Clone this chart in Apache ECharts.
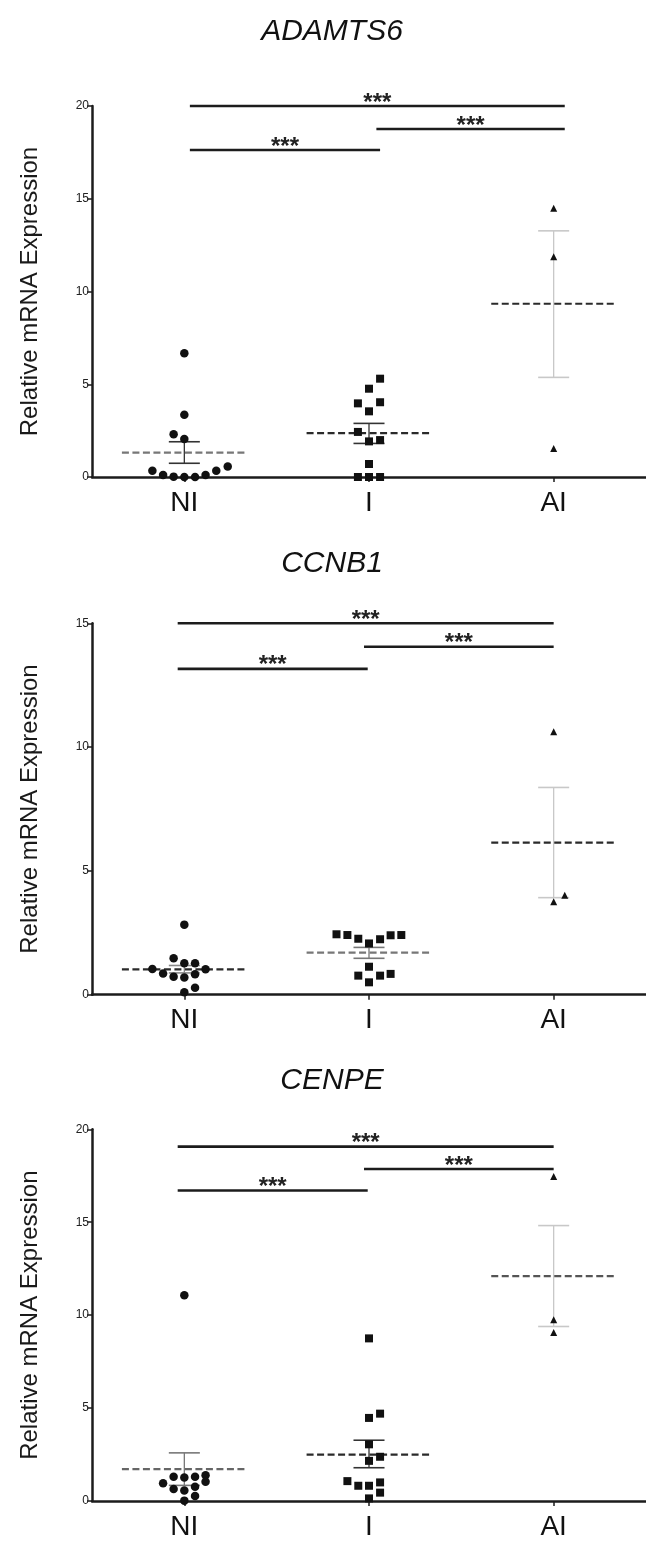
<!DOCTYPE html>
<html>
<head>
<meta charset="utf-8">
<script src="https://cdn.jsdelivr.net/npm/echarts@6/dist/echarts.min.js"></script>
<style>
html, body { margin: 0; padding: 0; background: #fff; }
#chart { width: 646px; height: 1541px; }
</style>
</head>
<body>
<div id="chart"></div>
<script>
// groups on the x axis (positions 1, 2, 3)
var groups = ['NI', 'I', 'AI'];
var genes = ['ADAMTS6', 'CCNB1', 'CENPE'];

// ADAMTS6
var adamts6NI = [6.67, 3.36, 2.30, 2.05, 0.34, 0.11, 0.02, 0, 0, 0.11, 0.34, 0.56];
var adamts6NIjit = [0, 0, -0.058, 0, -0.173, -0.115, -0.058, 0, 0.058, 0.115, 0.173, 0.235];
var adamts6I = [5.30, 4.76, 3.97, 4.03, 3.54, 2.43, 1.92, 1.99, 0.70, 0, 0, 0];
var adamts6Ijit = [0.06, 0, -0.06, 0.06, 0, -0.06, 0, 0.06, 0, -0.06, 0, 0.06];
var adamts6AI = [14.49, 11.88, 1.53];
var adamts6AIjit = [0, 0, 0];
var adamts6Mean = [1.31, 2.37, 9.34];
var adamts6Low = [0.74, 1.81, 5.37];
var adamts6High = [1.90, 2.89, 13.27];
var adamts6Sig = [[1.03, 3.06, 20.0], [2.04, 3.06, 18.76], [1.03, 2.06, 17.63]];

// CCNB1
var ccnb1NI = [2.83, 1.47, 1.27, 1.27, 1.04, 1.03, 0.86, 0.73, 0.69, 0.83, 0.28, 0.10];
var ccnb1NIjit = [0, -0.058, 0, 0.058, -0.173, 0.115, -0.115, -0.058, 0, 0.058, 0.058, 0];
var ccnb1I = [2.44, 2.41, 2.26, 2.07, 2.24, 2.40, 2.41, 1.13, 0.77, 0.77, 0.84, 0.50];
var ccnb1Ijit = [-0.176, -0.117, -0.058, 0, 0.06, 0.117, 0.175, 0, -0.058, 0.06, 0.117, 0];
var ccnb1AI = [10.62, 4.02, 3.75];
var ccnb1AIjit = [0, 0.06, 0];
var ccnb1Mean = [1.02, 1.70, 6.14];
var ccnb1Low = [0.88, 1.47, 3.92];
var ccnb1High = [1.18, 1.91, 8.37];
var ccnb1Sig = [[0.964, 3.0, 15.0], [1.973, 3.0, 14.05], [0.964, 1.993, 13.16]];

// CENPE
var cenpeNI = [11.07, 1.31, 1.27, 1.31, 1.39, 1.04, 0.95, 0.64, 0.56, 0.77, 0.27, 0.02];
var cenpeNIjit = [0, -0.058, 0, 0.058, 0.115, 0.115, -0.115, -0.058, 0, 0.058, 0.058, 0];
var cenpeI = [8.75, 4.70, 4.47, 3.05, 2.38, 2.16, 1.07, 0.82, 0.82, 1.00, 0.45, 0.14];
var cenpeIjit = [0, 0.06, 0, 0, 0.06, 0, -0.117, -0.058, 0, 0.06, 0.06, 0];
var cenpeAI = [17.46, 9.75, 9.07];
var cenpeAIjit = [0, 0, 0];
var cenpeMean = [1.71, 2.50, 12.10];
var cenpeLow = [0.84, 1.79, 9.39];
var cenpeHigh = [2.59, 3.27, 14.82];
var cenpeSig = [[0.964, 3.0, 19.07], [1.973, 3.0, 17.86], [0.964, 1.993, 16.71]];

var sigLabel = '***';
var yMaxes = [20, 15, 20];

var panels = [
    { pts: [adamts6NI, adamts6I, adamts6AI], jit: [adamts6NIjit, adamts6Ijit, adamts6AIjit],
      mean: adamts6Mean, low: adamts6Low, high: adamts6High, sig: adamts6Sig },
    { pts: [ccnb1NI, ccnb1I, ccnb1AI], jit: [ccnb1NIjit, ccnb1Ijit, ccnb1AIjit],
      mean: ccnb1Mean, low: ccnb1Low, high: ccnb1High, sig: ccnb1Sig },
    { pts: [cenpeNI, cenpeI, cenpeAI], jit: [cenpeNIjit, cenpeIjit, cenpeAIjit],
      mean: cenpeMean, low: cenpeLow, high: cenpeHigh, sig: cenpeSig }
];

// layout / style
var font = "'Liberation Sans', Arial, sans-serif";
var ink = '#1c1c1c';
var gridTop = [106, 623.3, 1129.3];
var gridHeight = [371, 371.4, 373.4];
var titleTop = [12, 544, 1061];
var symbols = ['circle', 'rect', 'triangle'];
var symbolSizes = [8.5, 8, 7];
var meanColors = [['#777', '#2a2a2a', '#2a2a2a'], ['#2a2a2a', '#777', '#2a2a2a'], ['#666', '#2a2a2a', '#555']];
var errColors = [['#333', '#333', '#c8c8c8'], ['#888', '#777', '#c8c8c8'], ['#777', '#333', '#c8c8c8']];
var meanHalf = 0.338, capHalf = 0.084;

function meanSemItem(p) {
    return function(params, api) {
        var x = api.value(0), m = api.value(1), lo = api.value(2), hi = api.value(3);
        var a = api.coord([x - meanHalf, m]), b = api.coord([x + meanHalf, m]);
        var t = api.coord([x, hi]), d = api.coord([x, lo]);
        var cl = api.coord([x - capHalf, hi])[0], cr = api.coord([x + capHalf, hi])[0];
        var ec = errColors[p][params.dataIndex], mc = meanColors[p][params.dataIndex];
        return {
            type: 'group',
            children: [
                { type: 'line', shape: { x1: t[0], y1: t[1], x2: d[0], y2: d[1] }, style: { stroke: ec, lineWidth: 1.3 } },
                { type: 'line', shape: { x1: cl, y1: t[1], x2: cr, y2: t[1] }, style: { stroke: ec, lineWidth: 1.6 } },
                { type: 'line', shape: { x1: cl, y1: d[1], x2: cr, y2: d[1] }, style: { stroke: ec, lineWidth: 1.6 } },
                { type: 'line', shape: { x1: a[0], y1: a[1], x2: b[0], y2: b[1] }, style: { stroke: mc, lineWidth: 2.2, lineDash: [7, 3.5] } }
            ]
        };
    };
}

function sigItem(params, api) {
    var y = api.value(2);
    var p1 = api.coord([api.value(0), y]), p2 = api.coord([api.value(1), y]);
    return {
        type: 'group',
        children: [
            { type: 'line', shape: { x1: p1[0], y1: p1[1], x2: p2[0], y2: p2[1] }, style: { stroke: ink, lineWidth: 2.6 } },
            { type: 'text', x: (p1[0] + p2[0]) / 2, y: p1[1] - 3,
              style: { text: sigLabel, fontSize: 24, fontFamily: font, fontWeight: 'bold', fill: '#222', align: 'center', verticalAlign: 'middle' } }
        ]
    };
}

var grid = [], xAxis = [], yAxis = [], series = [], title = [];

panels.forEach(function(pd, p) {
    title.push({
        text: genes[p], left: 327, top: titleTop[p], textAlign: 'center',
        textStyle: { fontFamily: font, fontStyle: 'italic', fontWeight: 'normal', fontSize: 30, color: '#111' }
    });
    grid.push({ left: 92, width: 554, top: gridTop[p], height: gridHeight[p] });
    xAxis.push({
        type: 'value', gridIndex: p, min: 0.5, max: 3.5,
        splitLine: { show: false },
        axisLine: { show: true, onZero: false, lineStyle: { color: ink, width: 2.5 } },
        axisTick: { show: true, length: 5, customValues: [1, 2, 3], lineStyle: { color: ink, width: 1.5 } },
        axisLabel: {
            customValues: [1, 2, 3], margin: 12,
            formatter: function(v) { return groups[Math.round(v) - 1] || ''; },
            fontFamily: font, fontSize: 28, color: '#111'
        }
    });
    yAxis.push({
        type: 'value', gridIndex: p, min: 0, max: yMaxes[p], interval: 5,
        name: 'Relative mRNA Expression', nameLocation: 'middle', nameGap: 50,
        nameTextStyle: { fontFamily: font, fontSize: 24, color: '#1a1a1a' },
        splitLine: { show: false },
        axisLine: { show: true, lineStyle: { color: ink, width: 2.5 } },
        axisTick: { show: true, length: 5, lineStyle: { color: ink, width: 1.5 } },
        axisLabel: { margin: 3, fontFamily: font, fontSize: 12, color: '#222' }
    });
    series.push({
        type: 'custom', xAxisIndex: p, yAxisIndex: p, z: 2, clip: false,
        renderItem: meanSemItem(p),
        data: groups.map(function(g, i) { return [i + 1, pd.mean[i], pd.low[i], pd.high[i]]; })
    });
    pd.pts.forEach(function(vals, g) {
        series.push({
            type: 'scatter', xAxisIndex: p, yAxisIndex: p, z: 3, clip: false,
            symbol: symbols[g], symbolSize: symbolSizes[g],
            itemStyle: { color: '#111', opacity: 1 },
            data: vals.map(function(v, i) { return [g + 1 + pd.jit[g][i], v]; })
        });
    });
    series.push({
        type: 'custom', xAxisIndex: p, yAxisIndex: p, z: 4, clip: false,
        renderItem: sigItem,
        data: pd.sig
    });
});

var chart = echarts.init(document.getElementById('chart'));
chart.setOption({
    animation: false,
    backgroundColor: '#fff',
    title: title,
    grid: grid,
    xAxis: xAxis,
    yAxis: yAxis,
    series: series
});
</script>
</body>
</html>
